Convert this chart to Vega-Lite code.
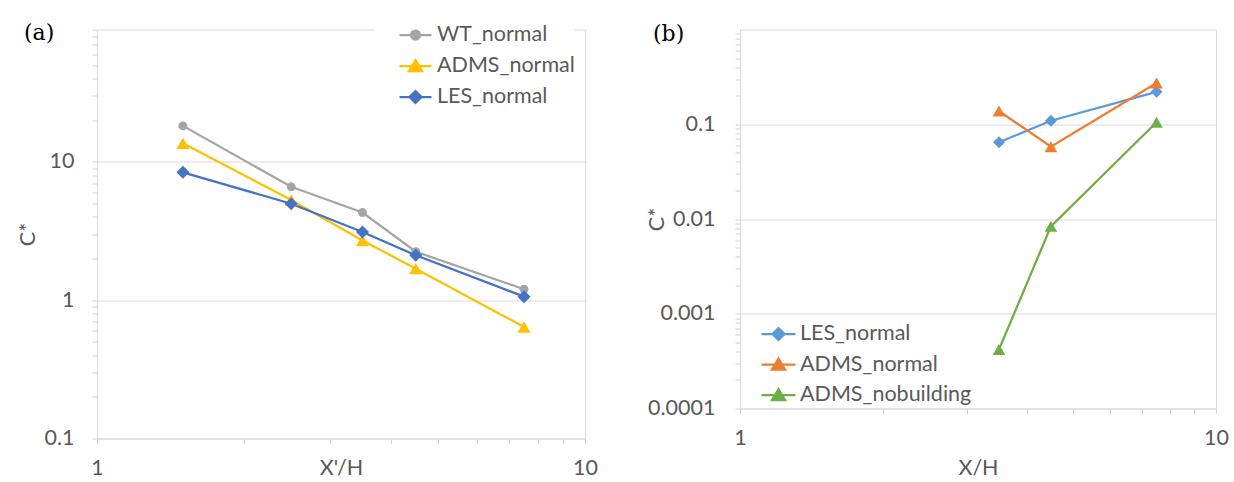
{
  "$schema": "https://vega.github.io/schema/vega-lite/v6.json",
  "background": "white",
  "padding": {"left": 16, "top": 17.5, "right": 0, "bottom": 0},
  "config": {
    "font": "Lato",
    "view": {"stroke": "#d9d9d9", "strokeWidth": 1},
    "axis": {
      "domainColor": "#d9d9d9",
      "tickColor": "#d0d0d0",
      "gridColor": "#d9d9d9",
      "labelColor": "#595959",
      "titleColor": "#595959",
      "labelFont": "Lato",
      "titleFont": "Lato",
      "labelFontSize": 21.5,
      "titleFontSize": 21.5,
      "titleFontWeight": "normal",
      "tickSize": 5,
      "labelOverlap": false,
      "labelFlush": false,
      "labelBound": false
    },
    "legend": {
      "title": null,
      "labelFont": "Lato",
      "labelFontSize": 21.5,
      "labelColor": "#595959",
      "labelOffset": 10,
      "labelLimit": 400,
      "symbolSize": 400,
      "symbolStrokeWidth": 2.25,
      "symbolOpacity": 1,
      "padding": 0
    },
    "title": {"font": "DejaVu Serif", "fontSize": 22, "fontWeight": "normal", "color": "#000000", "anchor": "start", "frame": "group", "offset": 0, "baseline": "alphabetic"},
    "concat": {"spacing": 47}
  },
  "datasets": {
    "panelA": [
      {"series": "WT_normal", "x": 1.5, "c": 18.2},
      {"series": "WT_normal", "x": 2.5, "c": 6.6},
      {"series": "WT_normal", "x": 3.5, "c": 4.3},
      {"series": "WT_normal", "x": 4.5, "c": 2.24},
      {"series": "WT_normal", "x": 7.5, "c": 1.2},
      {"series": "ADMS_normal", "x": 1.5, "c": 13.6},
      {"series": "ADMS_normal", "x": 2.5, "c": 5.3},
      {"series": "ADMS_normal", "x": 3.5, "c": 2.7},
      {"series": "ADMS_normal", "x": 4.5, "c": 1.69},
      {"series": "ADMS_normal", "x": 7.5, "c": 0.64},
      {"series": "LES_normal", "x": 1.5, "c": 8.4},
      {"series": "LES_normal", "x": 2.5, "c": 4.98},
      {"series": "LES_normal", "x": 3.5, "c": 3.11},
      {"series": "LES_normal", "x": 4.5, "c": 2.11},
      {"series": "LES_normal", "x": 7.5, "c": 1.06}
    ],
    "panelB": [
      {"series": "LES_normal", "x": 3.5, "c": 0.0645},
      {"series": "LES_normal", "x": 4.5, "c": 0.109},
      {"series": "LES_normal", "x": 7.5, "c": 0.22},
      {"series": "ADMS_normal", "x": 3.5, "c": 0.138},
      {"series": "ADMS_normal", "x": 4.5, "c": 0.058},
      {"series": "ADMS_normal", "x": 7.5, "c": 0.272},
      {"series": "ADMS_nobuilding", "x": 3.5, "c": 0.00042},
      {"series": "ADMS_nobuilding", "x": 4.5, "c": 0.00836},
      {"series": "ADMS_nobuilding", "x": 7.5, "c": 0.105}
    ]
  },
  "hconcat": [
    {
      "width": 488,
      "height": 409,
      "data": {"name": "panelA"},
      "title": {"text": "(a)", "dx": -73, "dy": 30.2},
      "encoding": {
        "x": {
          "field": "x", "type": "quantitative",
          "scale": {"type": "log", "domain": [1, 10]},
          "axis": {
            "values": [1, 2, 3, 4, 5, 6, 7, 8, 9, 10],
            "labelExpr": "datum.value == 1 || datum.value == 10 ? format(datum.value, '~g') : ''",
            "grid": false,
            "labelPadding": 25,
            "labelBaseline": "middle",
            "title": "X'/H",
            "titleY": 30,
            "titleBaseline": "middle"
          }
        },
        "y": {
          "field": "c", "type": "quantitative",
          "scale": {"type": "log", "domain": [0.1, 90.5]},
          "axis": {
            "values": [0.1, 0.2, 0.3, 0.4, 0.5, 0.6, 0.7, 0.8, 0.9, 1, 2, 3, 4, 5, 6, 7, 8, 9, 10, 20, 30, 40, 50, 60, 70, 80, 90],
            "labelExpr": "datum.value == 0.1 || datum.value == 1 || datum.value == 10 ? format(datum.value, '~g') : ''",
            "grid": true,
            "gridOpacity": {"condition": {"test": "datum.value == 1 || datum.value == 10", "value": 1}, "value": 0},
            "labelPadding": 18,
            "labelBaseline": "middle",
            "title": "C*",
            "titleX": -69,
            "titleBaseline": "middle"
          }
        },
        "color": {
          "field": "series", "type": "nominal",
          "scale": {"domain": ["WT_normal", "ADMS_normal", "LES_normal"], "range": ["#A5A5A5", "#FFC000", "#4472C4"]},
          "legend": {"orient": "none", "legendX": 277, "legendY": -6, "fillColor": "white", "symbolOffset": 30, "rowPadding": 9}
        }
      },
      "layer": [
        {"mark": {"type": "line", "strokeWidth": 2.25}},
        {
          "mark": {"type": "point", "filled": true, "opacity": 1},
          "encoding": {
            "shape": {
              "condition": [
                {"test": "datum.series === 'WT_normal'", "value": "circle"},
                {"test": "datum.series === 'ADMS_normal'", "value": "triangle-up"}
              ],
              "value": "diamond"
            },
            "size": {"condition": {"test": "datum.series === 'WT_normal'", "value": 80}, "value": 170}
          }
        },
        {
          "mark": {"type": "point", "filled": true, "opacity": 0},
          "encoding": {
            "stroke": {
              "field": "series", "type": "nominal",
              "scale": {"domain": ["WT_normal", "ADMS_normal", "LES_normal"], "range": ["#A5A5A5", "#FFC000", "#4472C4"]},
              "legend": {"orient": "none", "legendX": 277, "legendY": -6, "fillColor": "white", "symbolOffset": 30, "rowPadding": 9}
            },
            "shape": {
              "field": "series", "type": "nominal",
              "scale": {
                "domain": ["WT_normal", "ADMS_normal", "LES_normal"],
                "range": [
                  "M-1.6,0L1.6,0M-0.45,0A0.45,0.45,0,1,1,0.45,0A0.45,0.45,0,1,1,-0.45,0Z",
                  "M-1.6,0L1.6,0M0,-0.58L0.66,0.52L-0.66,0.52Z",
                  "M-1.6,0L1.6,0M0,-0.6L0.6,0L0,0.6L-0.6,0Z"
                ]
              },
              "legend": {"orient": "none", "legendX": 277, "legendY": -6, "fillColor": "white", "symbolOffset": 30, "rowPadding": 9}
            }
          }
        }
      ]
    },
    {
      "width": 476,
      "height": 379,
      "data": {"name": "panelB"},
      "title": {"text": "(b)", "dx": -87, "dy": 27},
      "encoding": {
        "x": {
          "field": "x", "type": "quantitative",
          "scale": {"type": "log", "domain": [1, 10]},
          "axis": {
            "values": [1, 2, 3, 4, 5, 6, 7, 8, 9, 10],
            "labelExpr": "datum.value == 1 || datum.value == 10 ? format(datum.value, '~g') : ''",
            "grid": false,
            "labelPadding": 25,
            "labelBaseline": "middle",
            "title": "X/H",
            "titleY": 60,
            "titleBaseline": "middle"
          }
        },
        "y": {
          "field": "c", "type": "quantitative",
          "scale": {"type": "log", "domain": [0.0001, 1]},
          "axis": {
            "values": [0.0001, 0.0002, 0.0003, 0.0004, 0.0005, 0.0006, 0.0007, 0.0008, 0.0009, 0.001, 0.002, 0.003, 0.004, 0.005, 0.006, 0.007, 0.008, 0.009, 0.01, 0.02, 0.03, 0.04, 0.05, 0.06, 0.07, 0.08, 0.09, 0.1, 0.2, 0.3, 0.4, 0.5, 0.6, 0.7, 0.8, 0.9],
            "labelExpr": "datum.value == 0.0001 || datum.value == 0.001 || datum.value == 0.01 || datum.value == 0.1 ? format(datum.value, '~g') : ''",
            "grid": true,
            "gridOpacity": {"condition": {"test": "datum.value == 0.1 || datum.value == 0.01 || datum.value == 0.001", "value": 1}, "value": 0},
            "labelPadding": 20,
            "labelBaseline": "middle",
            "title": "C*",
            "titleX": -83,
            "titleBaseline": "middle"
          }
        },
        "color": {
          "field": "series", "type": "nominal",
          "scale": {"domain": ["LES_normal", "ADMS_normal", "ADMS_nobuilding"], "range": ["#5B9BD5", "#ED7D31", "#70AD47"]},
          "legend": {"orient": "none", "legendX": 27, "legendY": 293, "rowPadding": 8.5}
        }
      },
      "layer": [
        {"mark": {"type": "line", "strokeWidth": 2.25}},
        {
          "mark": {"type": "point", "filled": true, "opacity": 1},
          "encoding": {
            "shape": {
              "condition": {"test": "datum.series === 'LES_normal'", "value": "diamond"},
              "value": "triangle-up"
            },
            "size": {"condition": {"test": "datum.series === 'LES_normal'", "value": 144}, "value": 160}
          }
        },
        {
          "mark": {"type": "point", "filled": true, "opacity": 0},
          "encoding": {
            "stroke": {
              "field": "series", "type": "nominal",
              "scale": {"domain": ["LES_normal", "ADMS_normal", "ADMS_nobuilding"], "range": ["#5B9BD5", "#ED7D31", "#70AD47"]},
              "legend": {"orient": "none", "legendX": 27, "legendY": 293, "rowPadding": 8.5}
            },
            "shape": {
              "field": "series", "type": "nominal",
              "scale": {
                "domain": ["LES_normal", "ADMS_normal", "ADMS_nobuilding"],
                "range": [
                  "M-1.7,0L1.7,0M0,-0.6L0.6,0L0,0.6L-0.6,0Z",
                  "M-1.7,0L1.7,0M0,-0.58L0.66,0.52L-0.66,0.52Z",
                  "M-1.7,0L1.7,0M0,-0.58L0.66,0.52L-0.66,0.52Z"
                ]
              },
              "legend": {"orient": "none", "legendX": 27, "legendY": 293, "rowPadding": 8.5}
            }
          }
        }
      ]
    }
  ],
  "resolve": {
    "scale": {"color": "independent", "shape": "independent", "stroke": "independent"},
    "legend": {"color": "independent", "shape": "independent", "stroke": "independent"}
  }
}
